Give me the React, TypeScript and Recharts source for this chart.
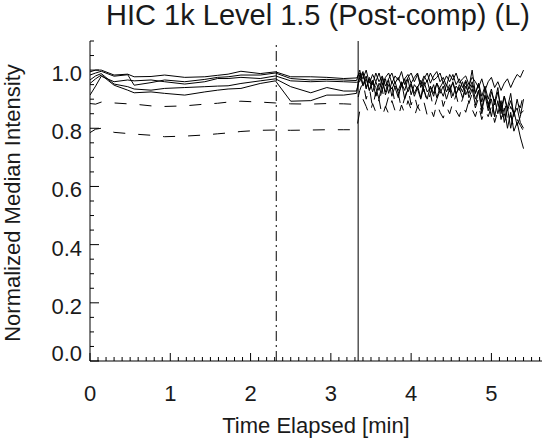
import React from 'react';
import { LineChart, Line, XAxis, YAxis, ReferenceLine } from 'recharts';

// ---- time grids (minutes) ----
const earlyTimes = [0, 0.07, 0.14, 0.3, 0.47, 0.55, 0.76, 0.93, 1.18, 1.43, 1.59, 1.72, 1.88, 2.12, 2.31, 2.5, 2.75, 2.95, 3.16, 3.32];
const lateTimes = [3.36, 3.4, 3.44, 3.48, 3.52, 3.56, 3.6, 3.64, 3.68, 3.72, 3.76, 3.8, 3.84, 3.88, 3.92, 3.96, 4.0, 4.04, 4.08, 4.12, 4.16, 4.2, 4.24, 4.28, 4.32, 4.36, 4.4, 4.44, 4.48, 4.52, 4.56, 4.6, 4.64, 4.68, 4.72, 4.76, 4.8, 4.84, 4.88, 4.92, 4.96, 5.0, 5.04, 5.08, 5.12, 5.16, 5.2, 5.24, 5.28, 5.32, 5.36, 5.4];

// ---- solid series ----
const s1Early = [0.994, 1.0, 1.0, 0.983, 0.986, 0.977, 0.978, 0.983, 0.975, 0.977, 0.982, 0.986, 0.996, 0.988, 0.994, 0.977, 0.977, 0.975, 0.971, 0.973];
const s1Late = [0.99, 0.97, 1.0, 0.955, 0.985, 0.96, 0.99, 0.95, 0.975, 0.99, 0.955, 0.98, 0.965, 0.995, 0.95, 0.975, 0.99, 0.96, 0.985, 0.94, 0.97, 0.99, 0.955, 0.98, 0.995, 0.96, 0.975, 0.945, 0.985, 0.965, 0.99, 0.955, 0.97, 0.98, 0.95, 0.975, 0.96, 0.94, 0.97, 0.93, 0.96, 0.975, 0.94, 0.96, 0.93, 0.955, 0.97, 0.94, 0.965, 0.985, 0.975, 1.0];

const s2Early = [0.983, 0.99, 0.996, 0.979, 0.984, 0.948, 0.957, 0.966, 0.96, 0.968, 0.975, 0.977, 0.983, 0.983, 0.99, 0.971, 0.966, 0.968, 0.966, 0.964];
const s2Late = [1.0, 0.95, 0.98, 0.93, 0.965, 0.91, 0.955, 0.935, 0.97, 0.92, 0.96, 0.94, 0.905, 0.955, 0.93, 0.97, 0.915, 0.95, 0.935, 0.9, 0.945, 0.965, 0.92, 0.95, 0.905, 0.94, 0.96, 0.925, 0.95, 0.91, 0.945, 0.93, 0.96, 0.915, 0.94, 1.0, 0.92, 0.95, 0.89, 0.935, 0.875, 0.925, 0.89, 0.94, 0.85, 0.91, 0.87, 0.92, 0.84, 0.9, 0.85, 0.86];

const s3Early = [0.966, 0.98, 0.988, 0.952, 0.943, 0.935, 0.931, 0.937, 0.94, 0.943, 0.945, 0.946, 0.954, 0.963, 0.97, 0.943, 0.922, 0.94, 0.928, 0.928];
const s3Late = [0.975, 0.995, 0.94, 0.97, 0.925, 0.96, 0.93, 0.975, 0.915, 0.95, 0.935, 0.96, 0.92, 0.945, 0.97, 0.925, 0.95, 0.91, 0.94, 0.965, 0.93, 0.9, 0.945, 0.92, 0.955, 0.935, 0.91, 0.95, 0.925, 0.96, 0.92, 0.94, 0.905, 0.945, 0.92, 0.95, 0.9, 0.93, 0.87, 0.915, 0.86, 0.9, 0.84, 0.895, 0.83, 0.87, 0.8, 0.855, 0.79, 0.82, 0.77, 0.73];

const s4Early = [0.954, 0.97, 0.983, 0.948, 0.931, 0.922, 0.925, 0.92, 0.914, 0.925, 0.931, 0.935, 0.937, 0.954, 0.963, 0.893, 0.895, 0.914, 0.914, 0.92];
const s4Late = [0.985, 0.945, 0.97, 0.93, 0.96, 0.94, 0.9, 0.955, 0.925, 0.965, 0.91, 0.945, 0.93, 0.96, 0.9, 0.935, 0.955, 0.92, 0.945, 0.905, 0.96, 0.925, 0.94, 0.91, 0.955, 0.92, 0.945, 0.9, 0.935, 0.955, 0.915, 0.95, 0.925, 0.96, 0.905, 0.935, 0.88, 0.93, 0.86, 0.91, 0.89, 0.84, 0.9, 0.85, 0.895, 0.82, 0.87, 0.8, 0.86, 0.81, 0.84, 0.9];

const s5Early = [0.914, 0.945, 0.979, 0.96, 0.966, 0.963, 0.966, 0.96, 0.952, 0.96, 0.971, 0.971, 0.975, 0.971, 0.98, 0.963, 0.96, 0.962, 0.96, 0.958];
const s5Late = [0.96, 0.99, 0.935, 0.975, 0.95, 0.99, 0.96, 0.98, 0.945, 0.97, 0.99, 0.955, 0.975, 0.945, 0.97, 0.985, 0.955, 0.975, 0.99, 0.95, 0.98, 0.96, 0.99, 0.965, 0.975, 0.99, 0.955, 0.98, 0.96, 0.985, 0.95, 0.97, 0.94, 0.965, 0.935, 0.96, 0.92, 0.955, 0.91, 0.945, 0.9, 0.935, 0.88, 0.925, 0.87, 0.91, 0.86, 0.895, 0.85, 0.87, 0.82, 0.8];

// ---- dashed series ----
const d1Early = [0.885, 0.883, 0.89, 0.887, 0.884, 0.883, 0.877, 0.875, 0.877, 0.883, 0.886, 0.89, 0.893, 0.89, 0.887, 0.884, 0.883, 0.885, 0.884, 0.882];
const d1Late = [0.93, 0.96, 0.9, 0.94, 0.87, 0.925, 0.89, 0.935, 0.87, 0.91, 0.945, 0.885, 0.92, 0.865, 0.905, 0.94, 0.88, 0.915, 0.87, 0.9, 0.935, 0.885, 0.92, 0.865, 0.9, 0.93, 0.875, 0.91, 0.94, 0.88, 0.915, 0.87, 0.9, 0.935, 0.885, 0.92, 0.87, 0.905, 0.85, 0.895, 0.87, 0.91, 0.84, 0.885, 0.86, 0.9, 0.83, 0.875, 0.85, 0.89, 0.87, 0.92];

const d2Early = [0.785, 0.797, 0.8, 0.786, 0.782, 0.78, 0.776, 0.771, 0.773, 0.777, 0.781, 0.784, 0.789, 0.793, 0.794, 0.793, 0.794, 0.795, 0.795, 0.795];
const d2Late = [0.86, 0.9, 0.875, 0.845, 0.885, 0.855, 0.9, 0.84, 0.875, 0.85, 0.895, 0.86, 0.84, 0.88, 0.85, 0.895, 0.865, 0.84, 0.875, 0.855, 0.89, 0.845, 0.87, 0.84, 0.885, 0.855, 0.835, 0.875, 0.85, 0.89, 0.86, 0.84, 0.88, 0.855, 0.895, 0.865, 0.84, 0.88, 0.83, 0.865, 0.84, 0.875, 0.82, 0.86, 0.835, 0.85, 0.81, 0.845, 0.8, 0.83, 0.81, 0.79];

// ---- markers / ticks ----
const dashDotTime = 2.32;
const solidMarkerTime = 3.34;
const xDomain = [0, 5.63];
const yDomain = [0, 1.1];
const xMajorLabels = ['0', '1', '2', '3', '4', '5'];
const yMajorLabels = ['0.0', '0.2', '0.4', '0.6', '0.8', '1.0'];
const xTicks = Array.from({ length: 57 }, (_, k) => k / 10);
const yTicks = Array.from({ length: 23 }, (_, k) => k / 20);

const times = [...earlyTimes, ...lateTimes];
const seriesList = [
  { key: 's1', vals: [...s1Early, ...s1Late], dashed: false },
  { key: 's2', vals: [...s2Early, ...s2Late], dashed: false },
  { key: 's3', vals: [...s3Early, ...s3Late], dashed: false },
  { key: 's4', vals: [...s4Early, ...s4Late], dashed: false },
  { key: 's5', vals: [...s5Early, ...s5Late], dashed: false },
  { key: 'd1', vals: [...d1Early, ...d1Late], dashed: true },
  { key: 'd2', vals: [...d2Early, ...d2Late], dashed: true },
];
const data = times.map((t, i) => {
  const row: Record<string, number> = { t };
  seriesList.forEach((s) => {
    row[s.key] = s.vals[i];
  });
  return row;
});

const FONT = '"Liberation Sans", Arial, Helvetica, sans-serif';
const TEXT = '#1a1a1a';

const isMajorX = (v: number) => Math.abs(v - Math.round(v)) < 1e-6;
const isMajorY = (v: number) => Math.abs(v * 5 - Math.round(v * 5)) < 1e-6;

const BottomTick = (props: any) => {
  const { x, y, payload } = props;
  const v = payload.value;
  const major = isMajorX(v);
  return (
    <g>
      <line x1={x} y1={y} x2={x} y2={y - (major ? 8 : 4)} stroke="#000" strokeWidth={1} />
      {major ? (
        <text x={x} y={y + 40} textAnchor="middle" fontSize={22} fontFamily={FONT} fill={TEXT}>
          {xMajorLabels[Math.round(v)]}
        </text>
      ) : null}
    </g>
  );
};

const TopTick = (props: any) => {
  const { x, y, payload } = props;
  const major = isMajorX(payload.value);
  return <line x1={x} y1={y} x2={x} y2={y + (major ? 8 : 4)} stroke="#000" strokeWidth={1} />;
};

const LeftTick = (props: any) => {
  const { x, y, payload } = props;
  const v = payload.value;
  const major = isMajorY(v);
  const labelY = v < 1e-6 ? y : y + 11;
  return (
    <g>
      <line x1={x} y1={y} x2={x + (major ? 9 : 4)} y2={y} stroke="#000" strokeWidth={1} />
      {major ? (
        <text x={x - 8} y={labelY} textAnchor="end" fontSize={22} fontFamily={FONT} fill={TEXT}>
          {yMajorLabels[Math.round(v * 5)]}
        </text>
      ) : null}
    </g>
  );
};

const RightTick = (props: any) => {
  const { x, y, payload } = props;
  const major = isMajorY(payload.value);
  return <line x1={x} y1={y} x2={x - (major ? 9 : 4)} y2={y} stroke="#000" strokeWidth={1} />;
};

export default function App() {
  return (
    <div style={{ position: 'absolute', left: 0, top: 0, width: 544, height: 440, background: '#fff' }}>
      <LineChart width={544} height={440} data={data} margin={{ top: 41, right: 2, bottom: 0, left: 0 }}>
        <XAxis
          dataKey="t"
          type="number"
          domain={xDomain}
          allowDataOverflow
          ticks={xTicks}
          interval={0}
          tickSize={0}
          tickMargin={0}
          tickLine={false}
          tick={<BottomTick />}
          height={79}
          axisLine={{ stroke: '#000', strokeWidth: 1 }}
        />
        <XAxis
          xAxisId="top"
          orientation="top"
          type="number"
          domain={xDomain}
          allowDataOverflow
          ticks={xTicks}
          interval={0}
          tickSize={0}
          tickMargin={0}
          tickLine={false}
          tick={<TopTick />}
          height={0}
          axisLine={{ stroke: '#000', strokeWidth: 1 }}
        />
        <YAxis
          type="number"
          domain={yDomain}
          allowDataOverflow
          ticks={yTicks}
          interval={0}
          tickSize={0}
          tickMargin={0}
          tickLine={false}
          tick={<LeftTick />}
          width={90}
          axisLine={{ stroke: '#000', strokeWidth: 1 }}
        />
        <YAxis
          yAxisId="right"
          orientation="right"
          type="number"
          domain={yDomain}
          allowDataOverflow
          ticks={yTicks}
          interval={0}
          tickSize={0}
          tickMargin={0}
          tickLine={false}
          tick={<RightTick />}
          width={0}
          axisLine={{ stroke: '#000', strokeWidth: 1 }}
        />
        <ReferenceLine x={dashDotTime} stroke="#000" strokeWidth={1} strokeDasharray="10 4 2 4" />
        <ReferenceLine x={solidMarkerTime} stroke="#000" strokeWidth={1} />
        {seriesList.map((s) => (
          <Line
            key={s.key}
            dataKey={s.key}
            type="linear"
            stroke="#000"
            strokeWidth={1}
            strokeDasharray={s.dashed ? '12 13' : undefined}
            dot={false}
            isAnimationActive={false}
          />
        ))}
      </LineChart>
      <svg width={544} height={440} style={{ position: 'absolute', left: 0, top: 0, pointerEvents: 'none' }}>
        <text x={318} y={25} textAnchor="middle" fontSize={29} fontFamily={FONT} fill={TEXT}>
          HIC 1k Level 1.5 (Post-comp) (L)
        </text>
        <text x={316} y={433} textAnchor="middle" fontSize={22} fontFamily={FONT} fill={TEXT}>
          Time Elapsed [min]
        </text>
        <text
          x={0}
          y={0}
          transform="translate(20 203) rotate(-90)"
          textAnchor="middle"
          fontSize={22}
          fontFamily={FONT}
          fill={TEXT}
        >
          Normalized Median Intensity
        </text>
      </svg>
    </div>
  );
}
